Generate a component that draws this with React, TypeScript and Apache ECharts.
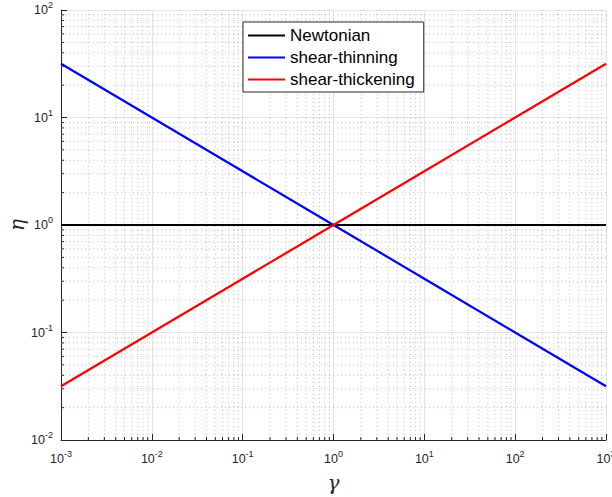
import React, { useEffect, useRef } from "react";
import * as echarts from "echarts";

// ---- data ----
const gammaValues = [0.001, 0.01, 0.1, 1, 10, 100, 1000];
const newtonianEta = [1, 1, 1, 1, 1, 1, 1];
const thinningEta = [31.62, 10, 3.162, 1, 0.3162, 0.1, 0.03162];
const thickeningEta = [0.03162, 0.1, 0.3162, 1, 3.162, 10, 31.62];
const seriesNames = ["Newtonian", "shear-thinning", "shear-thickening"];
const seriesColors = ["#000000", "#0000ff", "#ff0000"];
const xDecades = [-3, -2, -1, 0, 1, 2, 3];
const yDecades = [-2, -1, 0, 1, 2];
const minorMultipliers = [2, 3, 4, 5, 6, 7, 8, 9];
const xAxisName = "γ";
const yAxisName = "η";

function minorTicks(decades: number[]): number[] {
  const out: number[] = [];
  for (let i = 0; i < decades.length - 1; i++) {
    for (const m of minorMultipliers) out.push(m * Math.pow(10, decades[i]));
  }
  return out;
}

const AXIS_COLOR = "#262626";
const FONT = "'Liberation Sans', Arial, Helvetica, sans-serif";

function powLabel(v: number) {
  const e = Math.round(Math.log10(v));
  return `{b|10}{s|${e}}`;
}

const richLabel = {
  b: { fontSize: 12.5, fontFamily: FONT, color: AXIS_COLOR, lineHeight: 14 },
  s: { fontSize: 9, fontFamily: FONT, color: AXIS_COLOR, padding: [0, 0, 10, 0] },
};

export default function App() {
  const ref = useRef<HTMLDivElement>(null);
  useEffect(() => {
    if (!ref.current) return;
    const chart = echarts.init(ref.current, undefined, { renderer: "svg" });
    const pairs = (ys: number[]) => gammaValues.map((x, i) => [x, ys[i]]);
    const xMinor = minorTicks(xDecades).map((v) => [v, 1]);
    const yMinor = minorTicks(yDecades).map((v) => [1, v]);

    const option: any = {
      animation: false,
      backgroundColor: "#ffffff",
      grid: {
        left: 61,
        right: 6,
        top: 10,
        bottom: 57,
        containLabel: false,
        outerBoundsMode: "none",
      },
      legend: {
        orient: "vertical",
        left: 243,
        top: 22,
        padding: [3, 9, 2, 5],
        itemGap: 1,
        itemWidth: 37,
        itemHeight: 2,
        icon: "rect",
        borderColor: AXIS_COLOR,
        borderWidth: 1,
        backgroundColor: "#ffffff",
        data: seriesNames,
        textStyle: { fontFamily: FONT, fontSize: 17, color: "#000", lineHeight: 21 },
      },
      xAxis: {
        type: "log",
        logBase: 10,
        min: 0.001,
        max: 1000,
        interval: 1,
        name: xAxisName,
        nameLocation: "middle",
        nameGap: 33,
        nameTextStyle: {
          fontFamily: "'DejaVu Serif', 'Liberation Serif', serif",
          fontStyle: "italic",
          fontSize: 20,
          color: AXIS_COLOR,
        },
        axisLine: { show: true, onZero: false, lineStyle: { color: AXIS_COLOR, width: 1 } },
        axisTick: { show: true, inside: true, length: 6, lineStyle: { color: AXIS_COLOR } },
        axisLabel: {
          margin: 9,
          formatter: powLabel,
          rich: richLabel,
          showMinLabel: true,
          showMaxLabel: true,
          hideOverlap: false,
        },
        splitLine: { show: true, lineStyle: { color: "#e3e3e3", width: 1 } },
      },
      yAxis: {
        type: "log",
        logBase: 10,
        min: 0.01,
        max: 100,
        interval: 1,
        name: yAxisName,
        nameLocation: "middle",
        nameGap: 34,
        nameMoveOverlap: false,
        nameTextStyle: {
          fontFamily: "'DejaVu Serif', 'Liberation Serif', serif",
          fontStyle: "italic",
          fontSize: 20,
          color: AXIS_COLOR,
        },
        axisLine: { show: true, onZero: false, lineStyle: { color: AXIS_COLOR, width: 1 } },
        axisTick: { show: true, inside: true, length: 6, lineStyle: { color: AXIS_COLOR } },
        axisLabel: { margin: 8, formatter: powLabel, rich: richLabel, showMinLabel: true, showMaxLabel: true },
        splitLine: { show: true, lineStyle: { color: "#e3e3e3", width: 1 } },
      },
      series: [
        {
          type: "custom",
          name: "xminor",
          z: 1,
          silent: true,
          clip: false,
          data: xMinor,
          encode: { x: 0, y: 1 },
          renderItem: (params: any, api: any) => {
            const p = api.coord([api.value(0), api.value(1)]);
            const cs = params.coordSys;
            const bottom = cs.y + cs.height;
            return {
              type: "group",
              children: [
                {
                  type: "line",
                  shape: { x1: p[0], y1: cs.y, x2: p[0], y2: bottom },
                  style: { stroke: "#c0c0c0", lineWidth: 1, lineDash: [1, 3] },
                },
                {
                  type: "line",
                  shape: { x1: p[0], y1: bottom, x2: p[0], y2: bottom - 3 },
                  style: { stroke: AXIS_COLOR, lineWidth: 1 },
                },
              ],
            };
          },
        },
        {
          type: "custom",
          name: "yminor",
          z: 1,
          silent: true,
          clip: false,
          data: yMinor,
          encode: { x: 0, y: 1 },
          renderItem: (params: any, api: any) => {
            const p = api.coord([api.value(0), api.value(1)]);
            const cs = params.coordSys;
            return {
              type: "group",
              children: [
                {
                  type: "line",
                  shape: { x1: cs.x, y1: p[1], x2: cs.x + cs.width, y2: p[1] },
                  style: { stroke: "#c0c0c0", lineWidth: 1, lineDash: [1, 3] },
                },
                {
                  type: "line",
                  shape: { x1: cs.x, y1: p[1], x2: cs.x + 3, y2: p[1] },
                  style: { stroke: AXIS_COLOR, lineWidth: 1 },
                },
              ],
            };
          },
        },
        ...[newtonianEta, thinningEta, thickeningEta].map((ys, i) => ({
          type: "line",
          name: seriesNames[i],
          z: 3,
          data: pairs(ys),
          showSymbol: false,
          symbol: "none",
          color: seriesColors[i],
          lineStyle: { color: seriesColors[i], width: 2.2 },
        })),
      ],
    };
    chart.setOption(option);
    return () => chart.dispose();
  }, []);
  return (
    <div
      ref={ref}
      style={{ position: "absolute", left: 0, top: 0, width: 612, height: 497 }}
    />
  );
}
